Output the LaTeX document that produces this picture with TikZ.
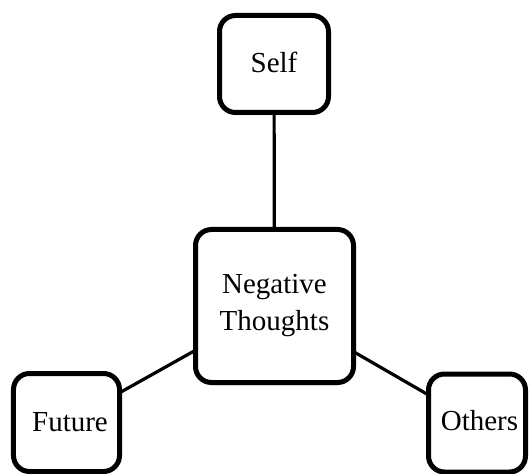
\documentclass[tikz,border=0pt]{standalone}
\usepackage{fontspec}
\setmainfont{Liberation Serif}
\usetikzlibrary{shadows}
\begin{document}
\begin{tikzpicture}[x=1bp,y=-1bp,
  box/.style={draw=black, line width=5bp, rounded corners=16bp, fill=white,
    align=center, inner sep=0pt, font=\fontsize{29bp}{37bp}\selectfont,
    drop shadow={shadow xshift=0bp, shadow yshift=-3bp, opacity=0.15, fill=black!60}},
  link/.style={draw=black, line width=3.2bp}]
  \useasboundingbox (0,0) rectangle (530,474);
  % connectors run centre to centre, behind the boxes
  \coordinate (cc) at (274.5,306);
  \coordinate (sc) at (274,64);
  \coordinate (fc) at (66.5,422.5);
  \coordinate (oc) at (477,423);
  \draw[link] (cc) -- (sc);
  \draw[link] (cc) -- (fc);
  \draw[link] (cc) -- (oc);
  % boxes, labels nudged within their frames
  \node[box, minimum width=109bp, minimum height=97bp] (self) at (sc) {\raisebox{3bp}{Self}};
  \node[box, minimum width=158bp, minimum height=153bp] (neg) at (cc) {Negative\\Thoughts};
  \node[box, minimum width=106bp, minimum height=98bp] (future) at (fc) {\hspace*{7bp}Future};
  \node[box, minimum width=97bp, minimum height=98bp] (others) at (oc) {\raisebox{5bp}{\hspace*{5bp}Others}};
\end{tikzpicture}
\end{document}
